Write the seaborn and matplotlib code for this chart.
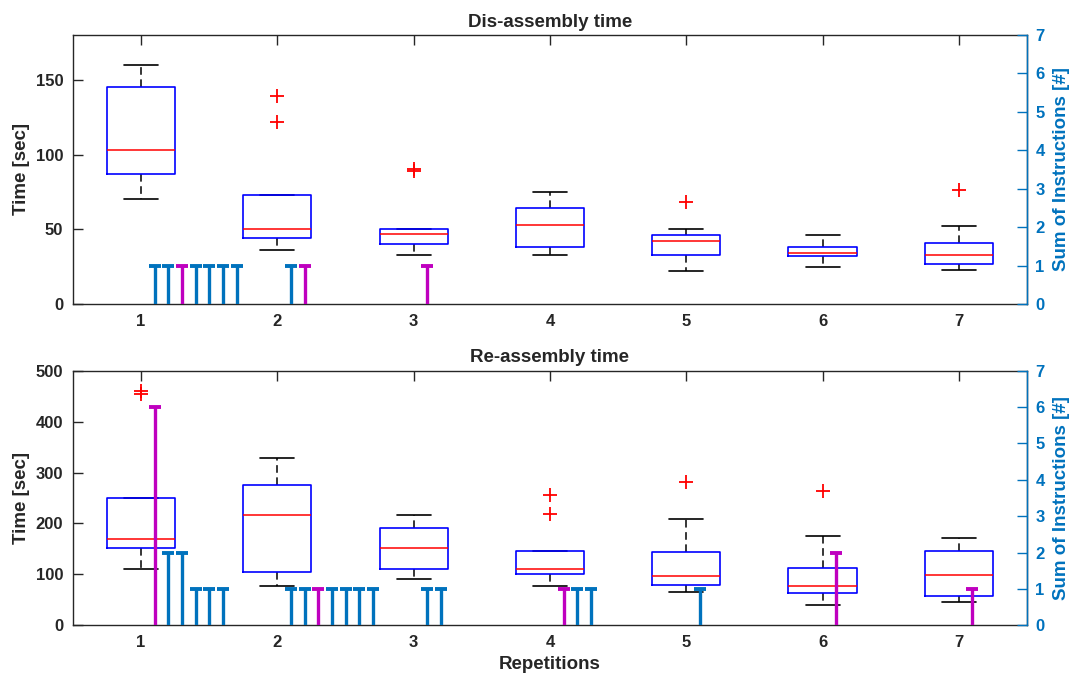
import matplotlib
matplotlib.use("Agg")
import matplotlib.pyplot as plt
import seaborn as sns
import pandas as pd

sns.set_style("white")
plt.rcParams['font.family'] = ['Liberation Sans', 'DejaVu Sans']
plt.rcParams['font.weight'] = 'bold'

reps = [1, 2, 3, 4, 5, 6, 7]

# box summaries (seconds)
dis_whislo = [70, 36, 33, 33, 22, 25, 23]
dis_q1 = [87, 44, 40, 38, 33, 32, 27]
dis_med = [103, 50, 47, 53, 42, 34, 33]
dis_q3 = [145, 73, 50, 64, 46, 38, 41]
dis_whishi = [160, 73, 50, 75, 50, 46, 52]
dis_fliers = [[], [122, 139], [89, 90], [], [68], [], [76]]

re_whislo = [110, 78, 90, 78, 66, 39, 45]
re_q1 = [152, 104, 110, 100, 80, 63, 57]
re_med = [169, 216, 151, 111, 96, 77, 98]
re_q3 = [250, 275, 191, 146, 144, 113, 146]
re_whishi = [250, 328, 216, 146, 209, 176, 171]
re_fliers = [[455, 460], [], [], [219, 255], [282], [264], []]

# instructions given per repetition (right axis)
dis_stem_x = [1.1, 1.2, 1.3, 1.4, 1.5, 1.6, 1.7, 2.1, 2.2, 3.1]
dis_stem_n = [1, 1, 1, 1, 1, 1, 1, 1, 1, 1]
dis_stem_kind = ['b', 'b', 'm', 'b', 'b', 'b', 'b', 'b', 'm', 'm']

re_stem_x = [1.1, 1.2, 1.3, 1.4, 1.5, 1.6,
             2.1, 2.2, 2.3, 2.4, 2.5, 2.6, 2.7,
             3.1, 3.2, 4.1, 4.2, 4.3, 5.1, 6.1, 7.1]
re_stem_n = [6, 2, 2, 1, 1, 1,
             1, 1, 1, 1, 1, 1, 1,
             1, 1, 1, 1, 1, 1, 2, 1]
re_stem_kind = ['m', 'b', 'b', 'b', 'b', 'b',
                'b', 'b', 'm', 'b', 'b', 'b', 'b',
                'b', 'b', 'm', 'b', 'b', 'b', 'm', 'm']

kind_colors = {'b': '#0072BD', 'm': '#BF00BF'}
axis_gray = '#262626'
blue_axis = '#0072BD'


def draw_panel(ax, whislo, q1, med, q3, whishi, fliers,
               stem_x, stem_n, stem_kind, ymax, yticks, title):
    stats = []
    for i in range(len(reps)):
        stats.append(dict(whislo=whislo[i], q1=q1[i], med=med[i], q3=q3[i],
                          whishi=whishi[i], fliers=[]))
    parts = ax.bxp(stats, positions=reps, widths=0.5, showfliers=False,
                   boxprops=dict(color='blue', linewidth=1.2),
                   medianprops=dict(color='red', linewidth=1.1),
                   whiskerprops=dict(color='black', linewidth=1.1, linestyle=(0, (5, 3))),
                   capprops=dict(color='black', linewidth=1.2),
                   capwidths=0.25)
    # box outline on top so caps sitting on the box edge are hidden
    for b in parts['boxes']:
        b.set_zorder(3)
    for m in parts['medians']:
        m.set_zorder(3.5)
    for c in parts['caps'] + parts['whiskers']:
        c.set_zorder(2)
    fl = pd.DataFrame([(r, v) for r, vals in zip(reps, fliers) for v in vals],
                      columns=['rep', 'time'])
    sns.scatterplot(data=fl, x='rep', y='time', marker='+', color='red',
                    s=90, linewidth=1.3, ax=ax, legend=False, zorder=4)
    ax.set_xlim(0.5, 7.5)
    ax.set_ylim(0, ymax)
    ax.set_yticks(yticks)
    ax.set_xticks(reps)
    ax.set_xticklabels([str(r) for r in reps])
    ax.set_ylabel('Time [sec]', fontsize=13.5, fontweight='bold', labelpad=4)
    ax.set_xlabel('')
    ax.set_title(title, fontsize=13.5, fontweight='bold', pad=6)
    ax.tick_params(direction='in', length=7, width=1, colors=axis_gray,
                   labelsize=12, top=True, right=False, pad=7)
    for s in ax.spines.values():
        s.set_color(axis_gray)
        s.set_linewidth(1)

    ax2 = ax.twinx()
    for x, n, k in zip(stem_x, stem_n, stem_kind):
        c = kind_colors[k]
        ax2.vlines(x, 0, n, color=c, linewidth=2.4, zorder=3)
        ax2.plot([x], [n], marker='_', markersize=8.5, mew=2.8, color=c, zorder=3)
    ax2.set_ylim(0, 7)
    ax2.set_yticks(range(8))
    ax2.set_ylabel('Sum of Instructions [#]', fontsize=13.5, fontweight='bold',
                   color=blue_axis, labelpad=6)
    ax2.tick_params(direction='in', length=7, width=1, colors=blue_axis,
                    labelsize=12, pad=6)
    ax2.spines['right'].set_color(blue_axis)
    ax2.spines['right'].set_linewidth(1)
    ax2.spines['left'].set_visible(False)
    ax2.spines['top'].set_visible(False)
    ax2.spines['bottom'].set_visible(False)
    return ax2


fig = plt.figure(figsize=(10.7, 6.73), dpi=100)
ax_top = fig.add_axes([0.0682, 0.5483, 0.8916, 0.3997])
ax_bot = fig.add_axes([0.0682, 0.0709, 0.8916, 0.3783])

draw_panel(ax_top, dis_whislo, dis_q1, dis_med, dis_q3, dis_whishi, dis_fliers,
           dis_stem_x, dis_stem_n, dis_stem_kind, 180, [0, 50, 100, 150],
           'Dis-assembly time')
draw_panel(ax_bot, re_whislo, re_q1, re_med, re_q3, re_whishi, re_fliers,
           re_stem_x, re_stem_n, re_stem_kind, 500, [0, 100, 200, 300, 400, 500],
           'Re-assembly time')
ax_bot.set_xlabel('Repetitions', fontsize=13.5, fontweight='bold', labelpad=4)

fig.savefig('out.png', dpi=100)
